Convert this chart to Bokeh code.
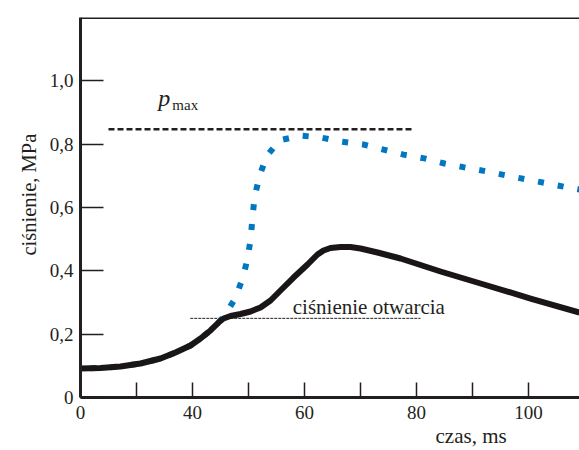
from bokeh.plotting import figure
from bokeh.models import Range1d, Span, Title, FixedTicker
from bokeh.embed import file_html
from bokeh.resources import INLINE
from bokeh.core.properties import value

# --- data (time in ms, pressure in MPa) ---
t_black = [20.0, 23.57, 27.14, 30.71, 34.29, 36.96, 39.64, 41.43, 43.21, 44.64, 45.54,
           46.79, 48.57, 50.36, 52.14, 53.93, 55.71, 58.04, 60.54, 62.32, 63.39, 64.64,
           66.43, 68.21, 70.0, 73.04, 77.14, 84.29, 91.43, 100.36, 109.1]
p_black = [0.0916, 0.0932, 0.0979, 0.1074, 0.1231, 0.1421, 0.1642, 0.1863, 0.2116, 0.2368, 0.2495,
           0.2574, 0.2637, 0.2716, 0.2842, 0.3063, 0.3379, 0.3789, 0.4200, 0.4516, 0.4642, 0.4721,
           0.4753, 0.4753, 0.4705, 0.4579, 0.4389, 0.3979, 0.3600, 0.3126, 0.2684]

t_blue = [18.2, 20.0, 23.57, 27.14, 30.71, 34.29, 36.96, 39.64, 41.43, 43.21, 44.64, 45.5,
          47.5, 48.9, 49.8, 50.4, 50.7, 51.1, 52.0, 53.2, 55.5, 59.3, 62.9, 66.6, 70.5, 74.1,
          77.7, 81.4, 85.0, 88.75, 92.5, 96.1, 99.8, 103.4, 107.1, 109.1]
p_blue = [0.092, 0.0916, 0.0932, 0.0979, 0.1074, 0.1231, 0.1421, 0.1642, 0.1863, 0.2116, 0.2368, 0.253,
          0.309, 0.373, 0.436, 0.502, 0.568, 0.635, 0.701, 0.761, 0.812, 0.827, 0.821, 0.808, 0.799,
          0.783, 0.767, 0.755, 0.739, 0.726, 0.714, 0.701, 0.688, 0.676, 0.663, 0.657]

pmax_t = [25.0, 79.5]
pmax_p = [0.847, 0.847]
open_t = [39.6, 80.7]
open_p = [0.25, 0.25]

x_ticks = [20, 30, 40, 50, 60, 70, 80, 90, 100]
x_labels = {20: "0", 30: "", 40: "40", 50: "", 60: "60", 70: "", 80: "80", 90: "", 100: "100"}
y_ticks = [0, 0.2, 0.4, 0.6, 0.8, 1.0]
y_labels = {0: "0", 0.2: "0,2", 0.4: "0,4", 0.6: "0,6", 0.8: "0,8", 1.0: "1,0"}

label_t = [33.9, 36.4, 57.9]
label_p = [0.947, 0.925, 0.287]

FONT = "Liberation Serif"
INK = "#231f20"
BLUE = "#0077c0"

p = figure(width=579, height=450, output_backend="svg", toolbar_location=None,
           x_range=Range1d(20, 109.1), y_range=Range1d(0, 1.2),
           min_border_left=80, min_border_right=0, min_border_top=17, min_border_bottom=53)
p.outline_line_color = None
p.grid.visible = False
p.background_fill_color = "white"
p.border_fill_color = "white"

for ax in (p.xaxis[0], p.yaxis[0]):
    ax.axis_line_width = 3
    ax.axis_line_color = INK
    ax.major_tick_line_color = INK
    ax.major_tick_line_width = 1.5
    ax.minor_tick_line_color = None
    ax.major_tick_out = 0
    ax.major_label_text_font = FONT
    ax.major_label_text_font_size = "19px"
    ax.major_label_text_color = INK

p.xaxis.ticker = FixedTicker(ticks=x_ticks)
p.xaxis.major_label_overrides = x_labels
p.xaxis.major_tick_in = 15
p.xaxis.major_label_standoff = 8

p.yaxis.ticker = FixedTicker(ticks=y_ticks)
p.yaxis.major_label_overrides = y_labels
p.yaxis.major_tick_in = 23
p.yaxis.major_label_standoff = 7

# axis titles
p.add_layout(Title(text="czas, ms", align="left", offset=355, standoff=0,
                   text_font=FONT, text_font_size="21px", text_font_style="normal",
                   text_color=INK), "below")
p.add_layout(Title(text="ciśnienie, MPa", align="left", offset=142, standoff=13,
                   text_font=FONT, text_font_size="20.5px", text_font_style="normal",
                   text_color=INK), "left")

# top frame line
p.add_layout(Span(location=1.2, dimension="width", line_color=INK, line_width=3))

# reference lines
p.line(pmax_t, pmax_p, line_color=INK, line_width=2.5, line_dash="6 3")
p.line(open_t, open_p, line_color=INK, line_width=1, line_dash="3 1")

# curves
p.line(t_blue, p_blue, line_color=BLUE, line_width=6, line_dash="6 14", line_cap="butt")
p.line(t_black, p_black, line_color="#1a1616", line_width=6, line_join="round")

# in-plot texts
p.text(x=[label_t[0]], y=[label_p[0]], text=["p"], text_font=value(FONT),
       text_font_style="italic", text_font_size="24px", text_color=INK,
       text_baseline="alphabetic")
p.text(x=[label_t[1]], y=[label_p[1]], text=["max"], text_font=value(FONT),
       text_font_size="15px", text_color=INK, text_baseline="alphabetic")
p.text(x=[label_t[2]], y=[label_p[2]], text=["ciśnienie otwarcia"], text_font=value(FONT),
       text_font_size="21px", text_color=INK, text_baseline="alphabetic")

open("out.html", "w").write(file_html(p, INLINE))
